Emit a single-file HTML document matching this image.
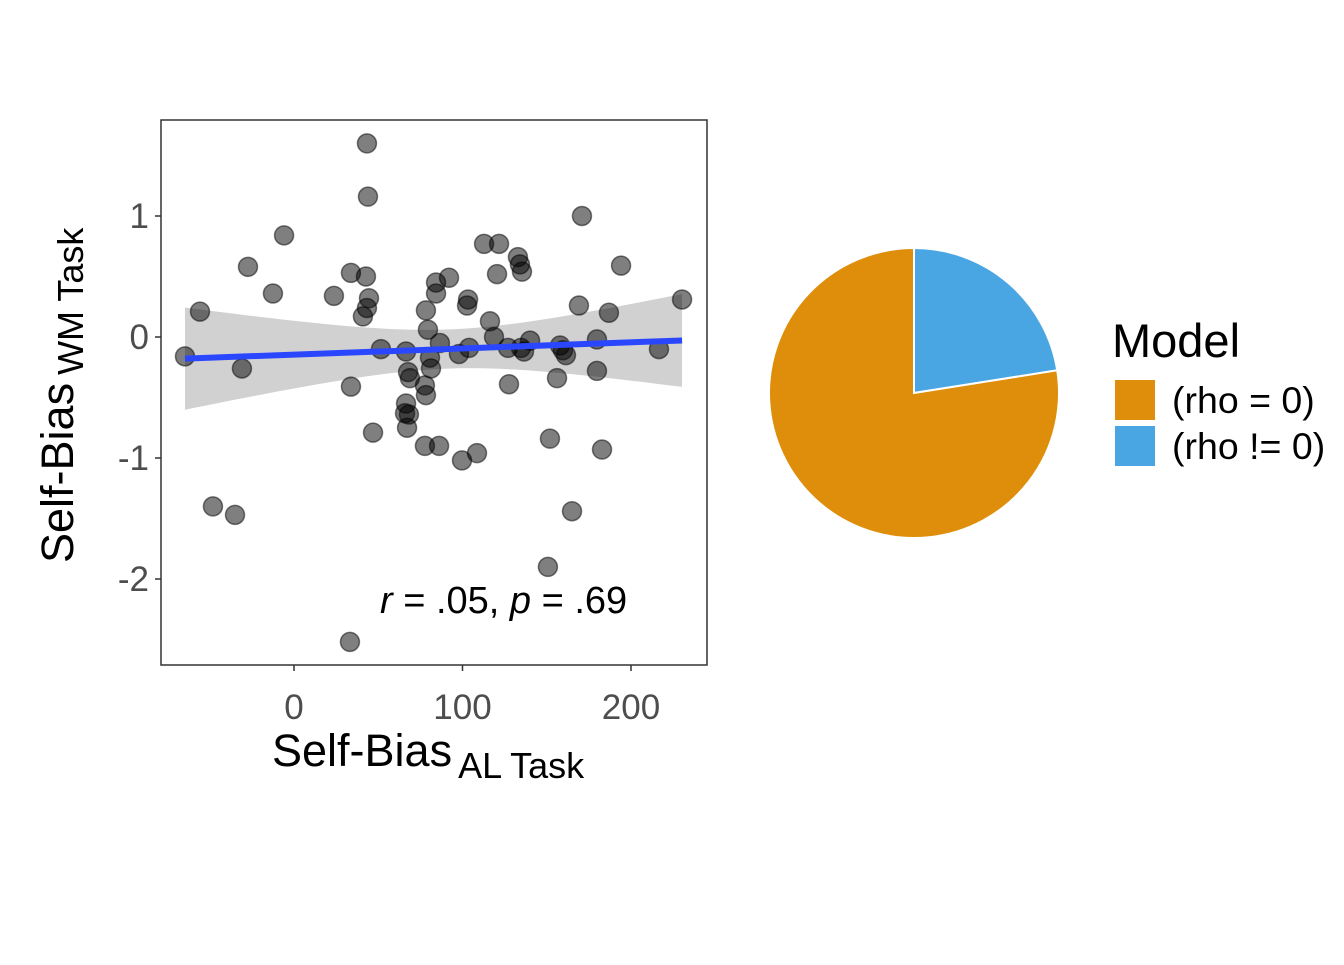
<!DOCTYPE html>
<html><head><meta charset="utf-8"><style>
body{margin:0;background:#fff;}
svg text{font-family:"Liberation Sans",Arial,sans-serif;}
</style></head><body>
<svg id="chart" width="1344" height="960" viewBox="0 0 1344 960">
<rect width="1344" height="960" fill="#fff"/>
<g id="scatter"></g>
<g id="pie"></g>
</svg>
<script>
const xs=[-64.7,-55.8,-30.9,-48.1,-35.0,-27.3,-12.5,-5.9,23.7,33.8,33.8,43.3,43.9,42.7,44.5,43.3,40.9,51.6,46.9,33.2,66.5,68.8,66.5,65.9,67.1,68.2,67.7,77.7,78.3,79.5,80.7,81.3,78.3,77.7,84.3,84.3,86.6,86.1,92.0,97.9,99.7,102.7,103.3,103.9,108.6,112.8,116.3,118.7,121.7,120.5,127.6,127.0,132.9,134.1,135.3,134.7,136.5,140.1,151.9,156.1,150.7,157.9,159.6,161.4,165.0,169.1,170.9,179.8,179.8,182.8,186.9,194.1,216.6,230.3];
const ys=[-0.16,0.21,-0.26,-1.40,-1.47,0.58,0.36,0.84,0.34,0.53,-0.41,1.60,1.16,0.50,0.32,0.24,0.17,-0.10,-0.79,-2.52,-0.12,-0.34,-0.55,-0.63,-0.75,-0.64,-0.29,-0.40,0.22,0.06,-0.17,-0.26,-0.48,-0.90,0.36,0.45,-0.05,-0.90,0.49,-0.14,-1.02,0.26,0.31,-0.09,-0.96,0.77,0.13,0.00,0.77,0.52,-0.39,-0.09,0.66,0.60,0.54,-0.09,-0.12,-0.03,-0.84,-0.34,-1.90,-0.07,-0.11,-0.15,-1.44,0.26,1.00,-0.02,-0.28,-0.93,0.20,0.59,-0.10,0.31];
const xTicks=[0,100,200];
const yTicks=[1,0,-1,-2];
const pieLabels=["(rho = 0)","(rho != 0)"];
const pieValues=[0.775,0.225];
const pieColors=["#DF8E0B","#4AA6E3"];

const NS="http://www.w3.org/2000/svg";
function mk(tag,attrs,parent){const e=document.createElementNS(NS,tag);for(const k in attrs)e.setAttribute(k,attrs[k]);parent.appendChild(e);return e;}
const L=161,R=707,T=120,B=665;
const sx=v=>294+v*1.685;
const sy=v=>337-v*121;
const g=document.getElementById('scatter');

const n=xs.length,mx=xs.reduce((a,b)=>a+b)/n,my=ys.reduce((a,b)=>a+b)/n;
let sxx=0,sxy=0;for(let i=0;i<n;i++){sxx+=(xs[i]-mx)**2;sxy+=(xs[i]-mx)*(ys[i]-my);}
const b1=sxy/sxx,b0=my-b1*mx;
let sse=0;for(let i=0;i<n;i++)sse+=(ys[i]-b0-b1*xs[i])**2;
const s=Math.sqrt(sse/(n-2)),t=1.993;
const xmin=Math.min(...xs),xmax=Math.max(...xs);
let up=[],lo=[];
for(let k=0;k<=60;k++){const x=xmin+(xmax-xmin)*k/60;const yh=b0+b1*x;const se=t*s*Math.sqrt(1/n+(x-mx)**2/sxx);up.push(sx(x)+','+sy(yh+se));lo.unshift(sx(x)+','+sy(yh-se));}
const band=mk('polygon',{points:up.concat(lo).join(' '),fill:'#999',opacity:0.45},g);


for(let i=0;i<n;i++){
  const c=mk('circle',{cx:sx(xs[i]),cy:sy(ys[i]),r:9.5,fill:'rgba(0,0,0,0.5)',stroke:'rgba(0,0,0,0.5)','stroke-width':1.5},g);
  
  
}
const ln=mk('line',{x1:sx(xmin),y1:sy(b0+b1*xmin),x2:sx(xmax),y2:sy(b0+b1*xmax),stroke:'#2A47FF','stroke-width':6},g);


const fr=mk('rect',{x:L,y:T,width:R-L,height:B-T,fill:'none',stroke:'#333','stroke-width':1.5},g);


xTicks.forEach(v=>{
  mk('line',{x1:sx(v),x2:sx(v),y1:B,y2:B+6,stroke:'#333','stroke-width':1.5},g);
  const tx=mk('text',{x:sx(v),y:719,'text-anchor':'middle','font-size':35,fill:'#4d4d4d'},g);
  tx.textContent=v;
  
  
});
yTicks.forEach(v=>{
  mk('line',{x1:L-6,x2:L,y1:sy(v),y2:sy(v),stroke:'#333','stroke-width':1.5},g);
  const tx=mk('text',{x:L-12,y:sy(v)+12,'text-anchor':'end','font-size':35,fill:'#4d4d4d'},g);
  tx.textContent=v;
  
  
});
const xt=mk('text',{x:272,y:766,'font-size':45,fill:'#000'},g);
xt.innerHTML='Self-Bias<tspan font-size="36" dy="12" dx="6">AL Task</tspan>';


const yt=mk('text',{x:0,y:0,'font-size':45,fill:'#000',transform:'translate(73,563) rotate(-90)'},g);
yt.innerHTML='Self-Bias<tspan font-size="36" dy="10" dx="8">WM Task</tspan>';


const an=mk('text',{x:380,y:613,'font-size':38,fill:'#000'},g);
an.innerHTML='<tspan font-style="italic">r</tspan> = .05, <tspan font-style="italic">p</tspan> = .69';



const p=document.getElementById('pie');
const cx=914,cy=393,r=145;
const tot=pieValues.reduce((a,b)=>a+b);
let start=0;
const order=[1,0];
order.forEach(i=>{
  const a0=start/tot*2*Math.PI,a1=(start+pieValues[i])/tot*2*Math.PI;
  start+=pieValues[i];
  const x0=cx+r*Math.sin(a0),y0=cy-r*Math.cos(a0),x1=cx+r*Math.sin(a1),y1=cy-r*Math.cos(a1);
  const large=(a1-a0)>Math.PI?1:0;
  const path=mk('path',{d:`M${cx},${cy} L${x0},${y0} A${r},${r} 0 ${large} 1 ${x1},${y1} Z`,fill:pieColors[i],stroke:'#fff','stroke-width':2},p);
  
  
});
const lt=mk('text',{x:1112,y:357,'font-size':47,fill:'#000'},p);
lt.textContent='Model';


pieLabels.forEach((lab,i)=>{
  const k=mk('rect',{x:1115,y:380+i*46,width:40,height:40,fill:pieColors[i]},p);
  
  
  const tx=mk('text',{x:1172,y:413+i*46,'font-size':37.5,fill:'#000'},p);
  tx.textContent=lab;
  
  
});
</script>
</body></html>
